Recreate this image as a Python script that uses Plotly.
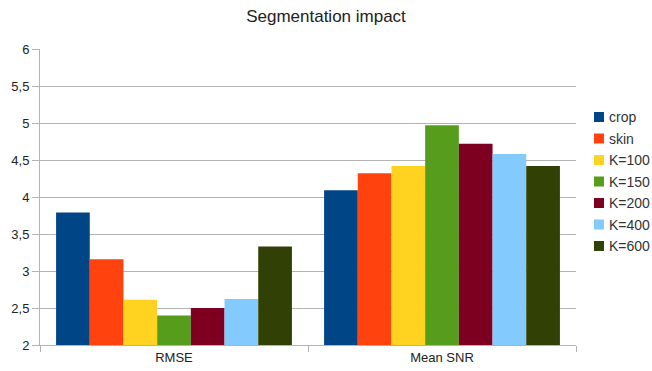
import plotly.graph_objects as go

categories = ["RMSE", "Mean SNR"]
series_names = ["crop", "skin", "K=100", "K=150", "K=200", "K=400", "K=600"]
rmse_values = [3.79, 3.16, 2.61, 2.40, 2.50, 2.62, 3.33]
snr_values = [4.09, 4.32, 4.42, 4.97, 4.72, 4.58, 4.42]
colors = ["#004586", "#ff420e", "#ffd320", "#579d1c", "#7e0021", "#83caff", "#314004"]
y_ticks = [2, 2.5, 3, 3.5, 4, 4.5, 5, 5.5, 6]

W, H = 652, 371
ML, MR, MT, MB = 40, 76, 49, 26
PW, PH = W - ML - MR, H - MT - MB

fig = go.Figure()
for name, r, s, c in zip(series_names, rmse_values, snr_values, colors):
    fig.add_trace(go.Bar(
        name=name,
        x=categories,
        y=[r, s],
        marker=dict(color=c, line=dict(width=0)),
        showlegend=False,
    ))

# hand-placed legend to the right of the plot area
def px_x(p):
    return (p - ML) / PW

def px_y(p):
    return (H - MB - p) / PH

shapes, annotations = [], []
for i, (name, c) in enumerate(zip(series_names, colors)):
    yc = 117 + 21.5 * i
    shapes.append(dict(type="rect", xref="paper", yref="paper",
                       x0=px_x(594), x1=px_x(604), y0=px_y(yc + 5), y1=px_y(yc - 5),
                       fillcolor=c, line=dict(width=0)))
    annotations.append(dict(text=name, xref="paper", yref="paper",
                            x=px_x(607), y=px_y(yc), xanchor="left", yanchor="middle",
                            showarrow=False, font=dict(size=14, color="#333333")))

fig.update_layout(
    width=W, height=H,
    margin=dict(l=ML, r=MR, t=MT, b=MB, autoexpand=False),
    paper_bgcolor="white", plot_bgcolor="white",
    font=dict(family="Liberation Sans, Arial, sans-serif", size=13, color="#333333"),
    separators=", ",
    title=dict(text="Segmentation impact", x=0.5, xanchor="center", y=0.957, yanchor="middle",
               font=dict(size=17, color="#222222")),
    barmode="group",
    bargap=0.12,
    bargroupgap=0,
    shapes=shapes,
    annotations=annotations,
)
fig.update_xaxes(
    type="category", showline=True, linecolor="#b3b3b3", linewidth=1,
    tickson="boundaries", ticks="outside", ticklen=6, tickcolor="#b3b3b3",
    showgrid=False, tickfont=dict(size=13, color="#222222"),
)
fig.update_yaxes(
    range=[2, 6], tickvals=y_ticks, showline=True, linecolor="#b3b3b3", linewidth=1,
    ticks="outside", ticklen=7, tickcolor="#b3b3b3",
    showgrid=True, gridcolor="#b3b3b3", gridwidth=1, zeroline=False,
    tickfont=dict(size=13, color="#222222"),
)

fig.write_html("out.html")
